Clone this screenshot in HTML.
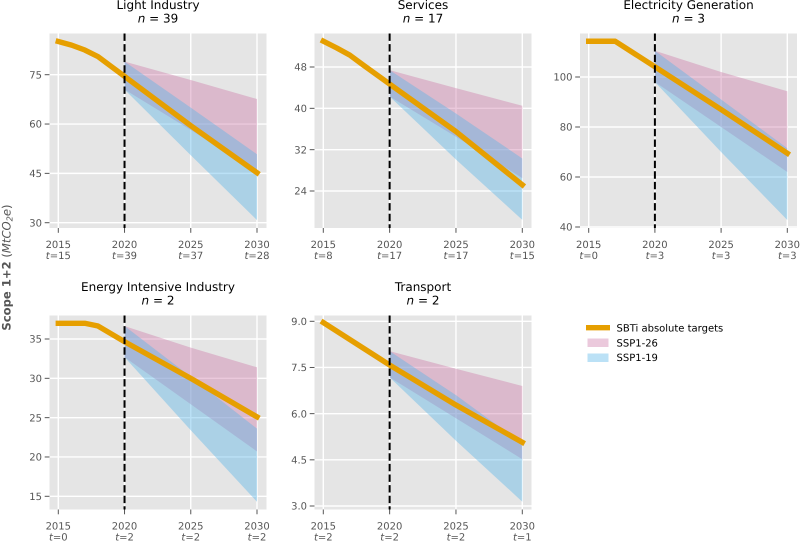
<!DOCTYPE html>
<html lang="en">
<head>
<meta charset="utf-8">
<title>Scope 1+2 emissions by sector</title>
<style>
html,body{margin:0;padding:0;background:#fff;width:800px;height:541px;overflow:hidden}
svg{display:block;font-family:"DejaVu Sans",sans-serif;text-rendering:geometricPrecision}
.title{font-size:12px;fill:#000;text-anchor:middle}
.tick{font-size:10px;fill:#555;}
</style>
</head>
<body>
<svg id="chart" width="800" height="541" viewBox="0 0 800 541" xmlns="http://www.w3.org/2000/svg">
<text transform="translate(10.5,267.5) rotate(-90)" text-anchor="middle" font-size="11.6" fill="#555"><tspan font-weight="bold">Scope 1+2</tspan> (<tspan font-style="italic">MtCO</tspan><tspan font-size="8.2" dy="2" font-style="italic">2</tspan><tspan dy="-2" font-style="italic">e</tspan>)</text>
</svg>
<script>
var titles = ["Light Industry","Services","Electricity Generation","Energy Intensive Industry","Transport"];
var nCounts = ["39","17","3","2","2"];
var xTickYears = [2015,2020,2025,2030];
var tCounts = [["15","39","37","28"],["8","17","17","15"],["0","3","3","3"],["0","2","2","2"],["2","2","2","1"]];
var yTickValues = [[30,45,60,75],[24,32,40,48],[40,60,80,100],[15,20,25,30,35],[3,4.5,6,7.5,9]];
var yTickLabels = [["30","45","60","75"],["24","32","40","48"],["40","60","80","100"],["15","20","25","30","35"],["3.0","4.5","6.0","7.5","9.0"]];
var targetYears = [[2015,2016,2017,2018,2019,2020,2025,2030],[2015,2016,2017,2018,2020,2025,2030],[2015,2016,2017,2020,2025,2030],[2015,2016,2017,2018,2020,2025,2030],[2015,2020,2025,2030]];
var targetValues = [[85.1,84,82.5,80.5,77.5,74.5,59.5,45.2],[53,51.7,50.3,48.4,44.7,35.5,25.2],[114.3,114.3,114.3,104.1,87,69.5],[37,37,37,36.65,34.66,30,25.1],[8.96,7.58,6.28,5.07]];
var scenarioYears = [2020,2025,2030];
var ssp126Upper = [[79,73.4,67.6],[47.4,43.9,40.5],[110.5,102,94.3],[36.65,33.9,31.4],[8.03,7.46,6.9]];
var ssp126Lower = [[70.5,58.2,45.5],[42.3,34.5,26.5],[98,80,62],[32.7,26.7,20.7],[7.18,5.85,4.52]];
var ssp119Upper = [[79,65,50.8],[47.4,39,30.3],[110.5,91,71.5],[36.65,30.2,23.6],[8.03,6.6,5.03]];
var ssp119Lower = [[70.5,50.5,30.8],[42.3,30.1,18.4],[98,70,42.8],[32.7,23.4,14.3],[7.18,5.12,3.14]];
var legendLabels = ["SBTi absolute targets","SSP1-26","SSP1-19"];

var panelBoxes = [
  {l:49.5,r:266.5,t:33.5,b:228,x0:58.3,x1:257,yA:30,pA:222.7,yB:75,pB:74.7},
  {l:314.5,r:531.5,t:33.5,b:228,x0:323.3,x1:522.3,yA:24,pA:191,yB:48,pB:67},
  {l:580,r:797,t:33.5,b:228,x0:588.7,x1:787.3,yA:40,pA:227,yB:100,pB:77},
  {l:49.5,r:266.5,t:315.5,b:509.5,x0:58.3,x1:257,yA:15,pA:496.3,yB:35,pB:339},
  {l:314.5,r:531.5,t:315.5,b:509.5,x0:323.3,x1:522.3,yA:3,pA:506,yB:9,pB:321.3}
];
var svg = document.getElementById('chart');
var NS = 'http://www.w3.org/2000/svg';
function mk(tag, attrs, parent){
  var el = document.createElementNS(NS, tag);
  for (var k in attrs) el.setAttribute(k, attrs[k]);
  (parent || svg).appendChild(el);
  return el;
}
function slug(s){ return s.toLowerCase().replace(/\s+/g,'-'); }
function band(xf, yf, upper, lower){
  var pts = [];
  scenarioYears.forEach(function(y,i){ pts.push(xf(y).toFixed(2)+','+yf(upper[i]).toFixed(2)); });
  for (var i = scenarioYears.length-1; i >= 0; i--) pts.push(xf(scenarioYears[i]).toFixed(2)+','+yf(lower[i]).toFixed(2));
  return pts.join(' ');
}
titles.forEach(function(title, p){
  var b = panelBoxes[p];
  var name = slug(title);
  var xf = function(v){ return b.x0 + (v-2015)*(b.x1-b.x0)/15; };
  var yf = function(v){ return b.pA + (v-b.yA)*(b.pB-b.pA)/(b.yB-b.yA); };
  var g = mk('g', {});
  
  
  var bg = mk('rect', {x:b.l,y:b.t,width:b.r-b.l,height:b.b-b.t,fill:'#e5e5e5'}, g);
  
  

  xTickYears.forEach(function(y,i){
    var x = xf(y);
    var gl = mk('line', {x1:x,x2:x,y1:b.t,y2:b.b,stroke:'#fff','stroke-width':1.4}, g);
    
    
    var tk = mk('line', {x1:x,x2:x,y1:b.b,y2:b.b+4.8,stroke:'#555','stroke-width':1}, g);
    
    
    var lab = mk('text', {x:x,y:b.b+20,'text-anchor':'middle','class':'tick'}, g);
    lab.textContent = y;
    
    
    var tl = mk('text', {x:x,y:b.b+31,'text-anchor':'middle','class':'tick'}, g);
    
    
    var ti = mk('tspan', {'font-style':'italic'}, tl);
    ti.textContent = 't';
    var tv = mk('tspan', {}, tl);
    tv.textContent = '=' + tCounts[p][i];
  });
  yTickValues[p].forEach(function(v,i){
    var y = yf(v);
    var gl = mk('line', {x1:b.l,x2:b.r,y1:y,y2:y,stroke:'#fff','stroke-width':1.4}, g);
    
    
    var tk = mk('line', {x1:b.l-4.8,x2:b.l,y1:y,y2:y,stroke:'#555','stroke-width':1}, g);
    
    
    var lab = mk('text', {x:b.l-7.5,y:y+3.6,'text-anchor':'end','class':'tick'}, g);
    lab.textContent = yTickLabels[p][i];
    
    
  });

  var pink = mk('polygon', {points:band(xf,yf,ssp126Upper[p],ssp126Lower[p]),fill:'#cc79a7','fill-opacity':0.4}, g);
  
  
  var blue = mk('polygon', {points:band(xf,yf,ssp119Upper[p],ssp119Lower[p]),fill:'#56b4e9','fill-opacity':0.4}, g);
  
  

  var pts = targetYears[p].map(function(y,i){ return xf(y).toFixed(2)+','+yf(targetValues[p][i]).toFixed(2); }).join(' ');
  var line = mk('polyline', {points:pts,fill:'none',stroke:'#e69f00','stroke-width':5.4,'stroke-linejoin':'round','stroke-linecap':'square'}, g);
  
  

  var vx = xf(2020);
  var dash = mk('line', {x1:vx,x2:vx,y1:b.t,y2:b.b,stroke:'#000','stroke-width':2,'stroke-dasharray':'7.4 3.2'}, g);
  
  

  var cx = (b.l+b.r)/2;
  var t1 = mk('text', {x:cx,y:b.t-24.5,'class':'title'}, g);
  t1.textContent = title;
  
  
  var t2 = mk('text', {x:cx,y:b.t-11,'class':'title'}, g);
  
  
  var ni = mk('tspan', {'font-style':'italic'}, t2);
  ni.textContent = 'n';
  var nv = mk('tspan', {}, t2);
  nv.textContent = ' = ' + nCounts[p];
});

var legend = mk('g', {});


var lineKey = mk('line', {x1:586,x2:610,y1:327.7,y2:327.7,stroke:'#e69f00','stroke-width':5.4}, legend);


var pinkKey = mk('rect', {x:587.5,y:338.5,width:21,height:8.5,fill:'#cc79a7','fill-opacity':0.4}, legend);


var blueKey = mk('rect', {x:587.5,y:353.5,width:21,height:8.5,fill:'#56b4e9','fill-opacity':0.4}, legend);


legendLabels.forEach(function(s,i){
  var t = mk('text', {x:616.5,y:331.5+i*14.8,'font-size':10,fill:'#000'}, legend);
  t.textContent = s;
  
  
});
</script>
</body>
</html>
